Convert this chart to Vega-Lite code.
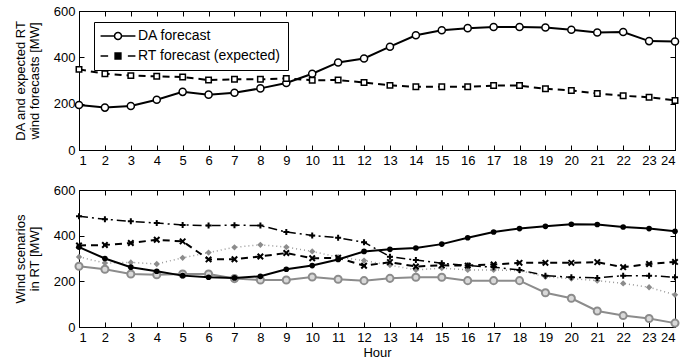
{
  "$schema": "https://vega.github.io/schema/vega-lite/v6.json",
  "padding": {"left": 13, "top": 4, "right": 3, "bottom": 2},
  "background": "white",
  "config": {
    "font": "Liberation Sans",
    "view": {"stroke": "black", "strokeWidth": 1},
    "axis": {
      "domainColor": "black", "tickColor": "black", "labelColor": "black", "titleColor": "black",
      "labelFontSize": 13, "titleFontSize": 13, "titleFontWeight": "normal",
      "tickSize": -5, "labelPadding": 9, "grid": false, "titleLineHeight": 14
    }
  },
  "datasets": {
    "top": [
      {"hour":1,"series":"DA forecast","mw":194},{"hour":2,"series":"DA forecast","mw":183},{"hour":3,"series":"DA forecast","mw":190},{"hour":4,"series":"DA forecast","mw":217},{"hour":5,"series":"DA forecast","mw":251},{"hour":6,"series":"DA forecast","mw":239},{"hour":7,"series":"DA forecast","mw":247},{"hour":8,"series":"DA forecast","mw":266},{"hour":9,"series":"DA forecast","mw":289},{"hour":10,"series":"DA forecast","mw":329},{"hour":11,"series":"DA forecast","mw":378},{"hour":12,"series":"DA forecast","mw":395},{"hour":13,"series":"DA forecast","mw":446},{"hour":14,"series":"DA forecast","mw":495},{"hour":15,"series":"DA forecast","mw":517},{"hour":16,"series":"DA forecast","mw":526},{"hour":17,"series":"DA forecast","mw":531},{"hour":18,"series":"DA forecast","mw":531},{"hour":19,"series":"DA forecast","mw":529},{"hour":20,"series":"DA forecast","mw":519},{"hour":21,"series":"DA forecast","mw":507},{"hour":22,"series":"DA forecast","mw":509},{"hour":23,"series":"DA forecast","mw":470},{"hour":24,"series":"DA forecast","mw":468},
      {"hour":1,"series":"RT forecast (expected)","mw":348},{"hour":2,"series":"RT forecast (expected)","mw":329},{"hour":3,"series":"RT forecast (expected)","mw":321},{"hour":4,"series":"RT forecast (expected)","mw":318},{"hour":5,"series":"RT forecast (expected)","mw":315},{"hour":6,"series":"RT forecast (expected)","mw":302},{"hour":7,"series":"RT forecast (expected)","mw":305},{"hour":8,"series":"RT forecast (expected)","mw":305},{"hour":9,"series":"RT forecast (expected)","mw":309},{"hour":10,"series":"RT forecast (expected)","mw":301},{"hour":11,"series":"RT forecast (expected)","mw":302},{"hour":12,"series":"RT forecast (expected)","mw":291},{"hour":13,"series":"RT forecast (expected)","mw":279},{"hour":14,"series":"RT forecast (expected)","mw":273},{"hour":15,"series":"RT forecast (expected)","mw":273},{"hour":16,"series":"RT forecast (expected)","mw":273},{"hour":17,"series":"RT forecast (expected)","mw":278},{"hour":18,"series":"RT forecast (expected)","mw":278},{"hour":19,"series":"RT forecast (expected)","mw":264},{"hour":20,"series":"RT forecast (expected)","mw":257},{"hour":21,"series":"RT forecast (expected)","mw":244},{"hour":22,"series":"RT forecast (expected)","mw":234},{"hour":23,"series":"RT forecast (expected)","mw":228},{"hour":24,"series":"RT forecast (expected)","mw":214}
    ],
    "bottom": [
      {"hour":1,"s":"S1","mw":350},{"hour":2,"s":"S1","mw":300},{"hour":3,"s":"S1","mw":262},{"hour":4,"s":"S1","mw":244},{"hour":5,"s":"S1","mw":225},{"hour":6,"s":"S1","mw":218},{"hour":7,"s":"S1","mw":215},{"hour":8,"s":"S1","mw":222},{"hour":9,"s":"S1","mw":253},{"hour":10,"s":"S1","mw":269},{"hour":11,"s":"S1","mw":296},{"hour":12,"s":"S1","mw":331},{"hour":13,"s":"S1","mw":340},{"hour":14,"s":"S1","mw":346},{"hour":15,"s":"S1","mw":363},{"hour":16,"s":"S1","mw":391},{"hour":17,"s":"S1","mw":416},{"hour":18,"s":"S1","mw":431},{"hour":19,"s":"S1","mw":441},{"hour":20,"s":"S1","mw":450},{"hour":21,"s":"S1","mw":449},{"hour":22,"s":"S1","mw":438},{"hour":23,"s":"S1","mw":431},{"hour":24,"s":"S1","mw":419},
      {"hour":1,"s":"S2","mw":266},{"hour":2,"s":"S2","mw":253},{"hour":3,"s":"S2","mw":232},{"hour":4,"s":"S2","mw":229},{"hour":5,"s":"S2","mw":232},{"hour":6,"s":"S2","mw":232},{"hour":7,"s":"S2","mw":212},{"hour":8,"s":"S2","mw":206},{"hour":9,"s":"S2","mw":206},{"hour":10,"s":"S2","mw":219},{"hour":11,"s":"S2","mw":209},{"hour":12,"s":"S2","mw":203},{"hour":13,"s":"S2","mw":213},{"hour":14,"s":"S2","mw":218},{"hour":15,"s":"S2","mw":218},{"hour":16,"s":"S2","mw":203},{"hour":17,"s":"S2","mw":203},{"hour":18,"s":"S2","mw":203},{"hour":19,"s":"S2","mw":150},{"hour":20,"s":"S2","mw":126},{"hour":21,"s":"S2","mw":70},{"hour":22,"s":"S2","mw":50},{"hour":23,"s":"S2","mw":37},{"hour":24,"s":"S2","mw":17},
      {"hour":1,"s":"S3","mw":307},{"hour":2,"s":"S3","mw":280},{"hour":3,"s":"S3","mw":283},{"hour":4,"s":"S3","mw":276},{"hour":5,"s":"S3","mw":303},{"hour":6,"s":"S3","mw":326},{"hour":7,"s":"S3","mw":349},{"hour":8,"s":"S3","mw":360},{"hour":9,"s":"S3","mw":350},{"hour":10,"s":"S3","mw":331},{"hour":11,"s":"S3","mw":306},{"hour":12,"s":"S3","mw":291},{"hour":13,"s":"S3","mw":271},{"hour":14,"s":"S3","mw":250},{"hour":15,"s":"S3","mw":258},{"hour":16,"s":"S3","mw":250},{"hour":17,"s":"S3","mw":250},{"hour":18,"s":"S3","mw":247},{"hour":19,"s":"S3","mw":220},{"hour":20,"s":"S3","mw":212},{"hour":21,"s":"S3","mw":203},{"hour":22,"s":"S3","mw":191},{"hour":23,"s":"S3","mw":174},{"hour":24,"s":"S3","mw":141},
      {"hour":1,"s":"S4","mw":357},{"hour":2,"s":"S4","mw":359},{"hour":3,"s":"S4","mw":368},{"hour":4,"s":"S4","mw":382},{"hour":5,"s":"S4","mw":375},{"hour":6,"s":"S4","mw":296},{"hour":7,"s":"S4","mw":297},{"hour":8,"s":"S4","mw":309},{"hour":9,"s":"S4","mw":324},{"hour":10,"s":"S4","mw":301},{"hour":11,"s":"S4","mw":303},{"hour":12,"s":"S4","mw":268},{"hour":13,"s":"S4","mw":284},{"hour":14,"s":"S4","mw":265},{"hour":15,"s":"S4","mw":270},{"hour":16,"s":"S4","mw":269},{"hour":17,"s":"S4","mw":274},{"hour":18,"s":"S4","mw":281},{"hour":19,"s":"S4","mw":281},{"hour":20,"s":"S4","mw":281},{"hour":21,"s":"S4","mw":284},{"hour":22,"s":"S4","mw":262},{"hour":23,"s":"S4","mw":276},{"hour":24,"s":"S4","mw":285},
      {"hour":1,"s":"S5","mw":485},{"hour":2,"s":"S5","mw":472},{"hour":3,"s":"S5","mw":463},{"hour":4,"s":"S5","mw":455},{"hour":5,"s":"S5","mw":447},{"hour":6,"s":"S5","mw":444},{"hour":7,"s":"S5","mw":446},{"hour":8,"s":"S5","mw":444},{"hour":9,"s":"S5","mw":416},{"hour":10,"s":"S5","mw":401},{"hour":11,"s":"S5","mw":391},{"hour":12,"s":"S5","mw":371},{"hour":13,"s":"S5","mw":308},{"hour":14,"s":"S5","mw":293},{"hour":15,"s":"S5","mw":279},{"hour":16,"s":"S5","mw":269},{"hour":17,"s":"S5","mw":262},{"hour":18,"s":"S5","mw":250},{"hour":19,"s":"S5","mw":225},{"hour":20,"s":"S5","mw":218},{"hour":21,"s":"S5","mw":215},{"hour":22,"s":"S5","mw":225},{"hour":23,"s":"S5","mw":225},{"hour":24,"s":"S5","mw":218}
    ]
  },
  "spacing": 15,
  "vconcat": [
    {
      "width": 596, "height": 139,
      "data": {"name": "top"},
      "layer": [
        {
          "transform": [{"filter": "datum.series === 'DA forecast'"}],
          "mark": {"type": "line", "color": "black", "strokeWidth": 2},
          "encoding": {
            "x": {"field": "hour", "type": "quantitative", "scale": {"domain": [1, 24], "nice": false, "zero": false},
                  "axis": {"orient": "bottom", "values": [1,2,3,4,5,6,7,8,9,10,11,12,13,14,15,16,17,18,19,20,21,22,23,24], "title": null}},
            "y": {"field": "mw", "type": "quantitative", "scale": {"domain": [0, 600], "nice": false},
                  "axis": {"orient": "left", "values": [0, 200, 400, 600], "title": ["DA and expected RT", "wind forecasts [MW]"], "titlePadding": 12}}
          }
        },
        {
          "transform": [{"filter": "datum.series === 'RT forecast (expected)'"}],
          "mark": {"type": "line", "color": "black", "strokeWidth": 2, "strokeDash": [7, 5]},
          "encoding": {
            "x": {"field": "hour", "type": "quantitative", "axis": null},
            "y": {"field": "mw", "type": "quantitative", "axis": null}
          }
        },
        {
          "transform": [{"filter": "datum.series === 'DA forecast'"}],
          "mark": {"type": "point", "shape": "circle", "size": 50, "filled": true, "fill": "white", "stroke": "black", "strokeWidth": 1.5, "opacity": 1},
          "encoding": {
            "x": {"field": "hour", "type": "quantitative",
                  "axis": {"orient": "top", "values": [1,2,3,4,5,6,7,8,9,10,11,12,13,14,15,16,17,18,19,20,21,22,23,24], "labels": false, "title": null}},
            "y": {"field": "mw", "type": "quantitative",
                  "axis": {"orient": "right", "values": [0, 200, 400, 600], "labels": false, "title": null}}
          }
        },
        {
          "transform": [{"filter": "datum.series === 'RT forecast (expected)'"}],
          "mark": {"type": "point", "shape": "square", "size": 30, "filled": true, "fill": "white", "stroke": "black", "strokeWidth": 1.5, "opacity": 1},
          "encoding": {
            "x": {"field": "hour", "type": "quantitative", "axis": null},
            "y": {"field": "mw", "type": "quantitative", "axis": null}
          }
        },
        {
          "transform": [{"filter": "false"}],
          "mark": {"type": "point", "filled": true, "strokeWidth": 1.5, "opacity": 1},
          "encoding": {
            "shape": {"field": "series", "type": "nominal",
              "scale": {"domain": ["DA forecast", "RT forecast (expected)"],
                        "range": ["M-3,0L-0.6,0M0.6,0L3,0M-0.6,0A0.6,0.6,0,1,0,0.6,0A0.6,0.6,0,1,0,-0.6,0Z", "M-3,0L-1.7,0M1.7,0L3,0M-0.5,-0.5L0.5,-0.5L0.5,0.5L-0.5,0.5Z"]},
              "legend": {"orient": "none", "legendX": 15, "legendY": 11, "title": null, "strokeColor": "black", "fillColor": "white", "padding": 7,
                         "labelFontSize": 14, "labelColor": "black", "symbolSize": 135, "symbolOffset": 10, "labelOffset": 13, "rowPadding": 6,
                         "symbolStrokeWidth": 1.5, "symbolOpacity": 1}},
            "fill": {"field": "series", "type": "nominal",
              "scale": {"domain": ["DA forecast", "RT forecast (expected)"], "range": ["white", "black"]},
              "legend": {"orient": "none", "legendX": 15, "legendY": 11, "title": null, "strokeColor": "black", "fillColor": "white", "padding": 7,
                         "labelFontSize": 14, "labelColor": "black", "symbolSize": 135, "symbolOffset": 10, "labelOffset": 13, "rowPadding": 6,
                         "symbolStrokeWidth": 1.5, "symbolOpacity": 1}},
            "stroke": {"field": "series", "type": "nominal",
              "scale": {"domain": ["DA forecast", "RT forecast (expected)"], "range": ["black", "black"]},
              "legend": {"orient": "none", "legendX": 15, "legendY": 11, "title": null, "strokeColor": "black", "fillColor": "white", "padding": 7,
                         "labelFontSize": 14, "labelColor": "black", "symbolSize": 135, "symbolOffset": 10, "labelOffset": 13, "rowPadding": 6,
                         "symbolStrokeWidth": 1.5, "symbolOpacity": 1}}
          }
        }
      ],
      "resolve": {"axis": {"x": "independent", "y": "independent"}}
    },
    {
      "width": 596, "height": 137,
      "data": {"name": "bottom"},
      "layer": [
        {
          "transform": [{"filter": "datum.s === 'S2'"}],
          "mark": {"type": "line", "color": "#8c8c8c", "strokeWidth": 2},
          "encoding": {
            "x": {"field": "hour", "type": "quantitative", "scale": {"domain": [1, 24], "nice": false, "zero": false},
                  "axis": {"orient": "bottom", "values": [1,2,3,4,5,6,7,8,9,10,11,12,13,14,15,16,17,18,19,20,21,22,23,24], "title": "Hour", "titlePadding": 2}},
            "y": {"field": "mw", "type": "quantitative", "scale": {"domain": [0, 600], "nice": false},
                  "axis": {"orient": "left", "values": [0, 200, 400, 600], "title": ["Wind scenarios", "in RT [MW]"], "titlePadding": 12}}
          }
        },
        {
          "transform": [{"filter": "datum.s === 'S2'"}],
          "mark": {"type": "point", "shape": "circle", "size": 50, "filled": true, "fill": "#d9d9d9", "stroke": "#8c8c8c", "strokeWidth": 2, "opacity": 1},
          "encoding": {
            "x": {"field": "hour", "type": "quantitative",
                  "axis": {"orient": "top", "values": [1,2,3,4,5,6,7,8,9,10,11,12,13,14,15,16,17,18,19,20,21,22,23,24], "labels": false, "title": null}},
            "y": {"field": "mw", "type": "quantitative",
                  "axis": {"orient": "right", "values": [0, 200, 400, 600], "labels": false, "title": null}}
          }
        },
        {
          "transform": [{"filter": "datum.s === 'S3'"}],
          "mark": {"type": "line", "color": "#9a9a9a", "strokeWidth": 1.5, "strokeDash": [1, 3]},
          "encoding": {
            "x": {"field": "hour", "type": "quantitative", "axis": null},
            "y": {"field": "mw", "type": "quantitative", "axis": null}
          }
        },
        {
          "transform": [{"filter": "datum.s === 'S3'"}],
          "mark": {"type": "point", "shape": "diamond", "size": 40, "filled": true, "color": "#8c8c8c", "opacity": 1},
          "encoding": {
            "x": {"field": "hour", "type": "quantitative", "axis": null},
            "y": {"field": "mw", "type": "quantitative", "axis": null}
          }
        },
        {
          "transform": [{"filter": "datum.s === 'S5'"}],
          "mark": {"type": "line", "color": "black", "strokeWidth": 1.5, "strokeDash": [9, 4, 2, 4]},
          "encoding": {
            "x": {"field": "hour", "type": "quantitative", "axis": null},
            "y": {"field": "mw", "type": "quantitative", "axis": null}
          }
        },
        {
          "transform": [{"filter": "datum.s === 'S5'"}],
          "mark": {"type": "point", "shape": "M-1,0L1,0M0,-1L0,1", "size": 36, "filled": false, "stroke": "black", "strokeWidth": 2, "opacity": 1},
          "encoding": {
            "x": {"field": "hour", "type": "quantitative", "axis": null},
            "y": {"field": "mw", "type": "quantitative", "axis": null}
          }
        },
        {
          "transform": [{"filter": "datum.s === 'S4'"}],
          "mark": {"type": "line", "color": "black", "strokeWidth": 2, "strokeDash": [7, 5]},
          "encoding": {
            "x": {"field": "hour", "type": "quantitative", "axis": null},
            "y": {"field": "mw", "type": "quantitative", "axis": null}
          }
        },
        {
          "transform": [{"filter": "datum.s === 'S4'"}],
          "mark": {"type": "point", "shape": "M-1,-1L1,1M-1,1L1,-1", "size": 30, "filled": false, "stroke": "black", "strokeWidth": 2, "opacity": 1},
          "encoding": {
            "x": {"field": "hour", "type": "quantitative", "axis": null},
            "y": {"field": "mw", "type": "quantitative", "axis": null}
          }
        },
        {
          "transform": [{"filter": "datum.s === 'S1'"}],
          "mark": {"type": "line", "color": "black", "strokeWidth": 2},
          "encoding": {
            "x": {"field": "hour", "type": "quantitative", "axis": null},
            "y": {"field": "mw", "type": "quantitative", "axis": null}
          }
        },
        {
          "transform": [{"filter": "datum.s === 'S1'"}],
          "mark": {"type": "point", "shape": "circle", "size": 32, "filled": true, "color": "black", "opacity": 1},
          "encoding": {
            "x": {"field": "hour", "type": "quantitative", "axis": null},
            "y": {"field": "mw", "type": "quantitative", "axis": null}
          }
        }
      ],
      "resolve": {"axis": {"x": "independent", "y": "independent"}}
    }
  ]
}
